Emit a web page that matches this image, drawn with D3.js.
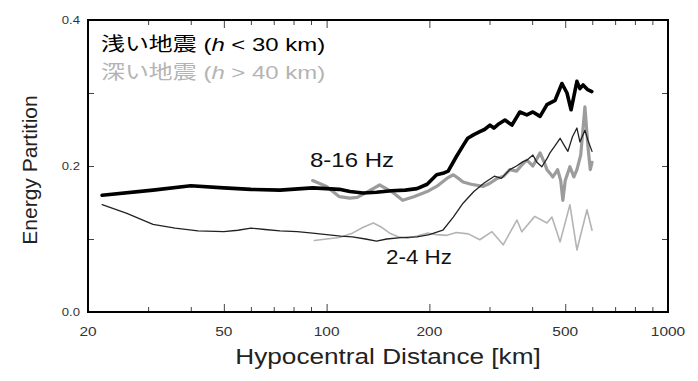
<!DOCTYPE html>
<html><head><meta charset="utf-8">
<script src="https://cdn.jsdelivr.net/npm/d3@7"></script>
<style>
html,body{margin:0;padding:0;background:#fff;}
svg{display:block;font-family:"Liberation Sans",Arial,sans-serif;}
</style></head>
<body>
<svg id="chart" width="698" height="381"></svg>
<script>
// ---- data ----
const xTickLabels = [20, 50, 100, 200, 500, 1000];
const xMinorTicks = [30, 40, 60, 70, 80, 90, 300, 400, 600, 700, 800, 900];
const yTickLabels = [0.0, 0.2, 0.4];
const yMinorTicks = [0.1, 0.3];

const shallowHighDist = [22, 31, 40, 50, 60, 73, 91, 109, 117, 128, 140, 155, 170, 184, 197, 210, 219, 227, 240, 251, 259, 270, 281, 290, 301, 309, 320, 333, 349, 368, 386, 402, 422, 442, 467, 489, 506, 520, 527, 541, 552, 564, 580, 598];
const shallowHighVal  = [0.160, 0.167, 0.173, 0.170, 0.168, 0.167, 0.170, 0.168, 0.165, 0.163, 0.164, 0.166, 0.167, 0.169, 0.175, 0.188, 0.190, 0.193, 0.213, 0.228, 0.238, 0.243, 0.247, 0.250, 0.256, 0.252, 0.258, 0.263, 0.256, 0.274, 0.270, 0.274, 0.268, 0.284, 0.290, 0.313, 0.300, 0.277, 0.290, 0.316, 0.306, 0.311, 0.305, 0.302];

const shallowLowDist = [22, 26, 31, 36, 42, 50, 55, 60, 66, 73, 82, 91, 100, 110, 119, 130, 140, 150, 165, 184, 200, 219, 235, 251, 270, 290, 310, 325, 344, 360, 376, 386, 402, 413, 427, 442, 451, 467, 483, 497, 509, 525, 541, 552, 571, 583, 599];
const shallowLowVal  = [0.147, 0.135, 0.120, 0.115, 0.111, 0.110, 0.112, 0.115, 0.113, 0.111, 0.110, 0.108, 0.106, 0.104, 0.103, 0.100, 0.097, 0.100, 0.102, 0.103, 0.106, 0.112, 0.130, 0.149, 0.165, 0.177, 0.186, 0.183, 0.195, 0.200, 0.206, 0.208, 0.215, 0.205, 0.199, 0.210, 0.218, 0.228, 0.238, 0.228, 0.220, 0.240, 0.252, 0.233, 0.249, 0.235, 0.220];

const deepHighDist = [91, 100, 109, 117, 123, 132, 143, 155, 167, 180, 197, 210, 225, 235, 245, 251, 265, 287, 300, 316, 330, 344, 360, 376, 386, 402, 422, 434, 442, 451, 460, 475, 485, 492, 500, 516, 530, 541, 555, 571, 583, 592, 599];
const deepHighVal  = [0.180, 0.172, 0.158, 0.156, 0.157, 0.165, 0.174, 0.165, 0.153, 0.158, 0.165, 0.172, 0.183, 0.188, 0.182, 0.178, 0.175, 0.172, 0.176, 0.183, 0.186, 0.195, 0.193, 0.203, 0.208, 0.200, 0.218, 0.205, 0.195, 0.190, 0.185, 0.195, 0.180, 0.153, 0.180, 0.199, 0.185, 0.195, 0.215, 0.281, 0.226, 0.195, 0.205];

const deepLowDist = [92, 100, 109, 119, 128, 137, 145, 153, 162, 172, 184, 197, 210, 225, 240, 260, 281, 305, 329, 361, 373, 407, 442, 457, 483, 516, 541, 579, 599];
const deepLowVal  = [0.098, 0.100, 0.102, 0.108, 0.116, 0.122, 0.116, 0.108, 0.103, 0.101, 0.104, 0.108, 0.106, 0.105, 0.109, 0.107, 0.099, 0.110, 0.092, 0.126, 0.110, 0.131, 0.122, 0.130, 0.096, 0.147, 0.085, 0.140, 0.112];

// ---- layout ----
const L = 88, R = 668, T = 20, B = 312;
const SX = 1.19; // horizontal stretch of glyphs in the reference
const svg = d3.select("#chart");
const x = d3.scaleLog().domain([20, 1000]).range([L, R]);
const y = d3.scaleLinear().domain([0, 0.4]).range([B, T]);

function stretchedText(g, px, py, str, opts) {
  const t = g.append("text")
    .attr("transform", `translate(${px},${py}) scale(${opts.sx || SX},1)`)
    .attr("font-size", opts.size)
    .attr("fill", opts.fill || "#000")
    .attr("text-anchor", opts.anchor || "start");
  return t;
}

// ---- series ----
const line = d3.line().x(d => x(d[0])).y(d => y(d[1]));
function draw(dist, val, color, w) {
  svg.append("path").datum(d3.zip(dist, val))
    .attr("d", line).attr("fill", "none")
    .attr("stroke", color).attr("stroke-width", w)
    .attr("stroke-linejoin", "round").attr("stroke-linecap", "round");
}
draw(deepLowDist, deepLowVal, "#b4b4b4", 1.6);
draw(deepHighDist, deepHighVal, "#9c9c9c", 3.2);
draw(shallowLowDist, shallowLowVal, "#222", 1.3);
draw(shallowHighDist, shallowHighVal, "#000", 3.6);

// ---- axes (ticks inward) ----
const fmtNone = () => "";
svg.append("g").attr("transform", `translate(0,${B})`)
  .call(d3.axisBottom(x).tickValues(xTickLabels).tickSize(-8).tickFormat(fmtNone));
svg.append("g").attr("transform", `translate(0,${B})`)
  .call(d3.axisBottom(x).tickValues(xMinorTicks).tickSize(-5).tickFormat(fmtNone));
svg.append("g").attr("transform", `translate(0,${T})`)
  .call(d3.axisTop(x).tickValues(xTickLabels).tickSize(-8).tickFormat(fmtNone));
svg.append("g").attr("transform", `translate(0,${T})`)
  .call(d3.axisTop(x).tickValues(xMinorTicks).tickSize(-5).tickFormat(fmtNone));
svg.append("g").attr("transform", `translate(${L},0)`)
  .call(d3.axisLeft(y).tickValues(yTickLabels.concat(yMinorTicks)).tickSize(-6).tickFormat(fmtNone));
svg.append("g").attr("transform", `translate(${R},0)`)
  .call(d3.axisRight(y).tickValues(yTickLabels.concat(yMinorTicks)).tickSize(-6).tickFormat(fmtNone));
svg.selectAll(".domain").remove();
svg.selectAll(".tick line").attr("stroke", "#444").attr("stroke-width", 1);
svg.append("rect").attr("x", L).attr("y", T).attr("width", R - L).attr("height", B - T)
  .attr("fill", "none").attr("stroke", "#000").attr("stroke-width", 2);

// tick labels
const lab = svg.append("g");
xTickLabels.forEach(v => {
  stretchedText(lab, x(v), B + 24, String(v), {size: 13, anchor: "middle", fill: "#333"}).text(v);
});
yTickLabels.forEach(v => {
  stretchedText(lab, L - 8, y(v) + 4, v.toFixed(1), {size: 11, anchor: "end", fill: "#333"}).text(v.toFixed(1));
});

// axis titles
stretchedText(svg, (L + R) / 2 + 10, 364, "", {size: 22, anchor: "middle", fill: "#222"})
  .text("Hypocentral Distance [km]");
svg.append("text")
  .attr("transform", `translate(37,${(T + B) / 2 + 4}) rotate(-90)`)
  .attr("font-size", 21).attr("fill", "#222").attr("text-anchor", "middle")
  .text("Energy Partition");

// legend
const leg1 = stretchedText(svg, 101, 51, "", {size: 19, sx: 1.26, fill: "#000"});
leg1.append("tspan").attr("font-family", "'Noto Sans CJK JP',sans-serif").text("浅い地震");
leg1.append("tspan").text(" (");
leg1.append("tspan").attr("font-style", "italic").text("h");
leg1.append("tspan").text(" < 30 km)");
const leg2 = stretchedText(svg, 101, 79, "", {size: 19, sx: 1.26, fill: "#b4b4b4"});
leg2.append("tspan").attr("font-family", "'Noto Sans CJK JP',sans-serif").text("深い地震");
leg2.append("tspan").text(" (");
leg2.append("tspan").attr("font-style", "italic").text("h");
leg2.append("tspan").text(" > 40 km)");

// curve labels
stretchedText(svg, 310, 167, "", {size: 20, sx: 1.2, fill: "#111"}).text("8-16 Hz");
stretchedText(svg, 386, 264, "", {size: 20, sx: 1.12, fill: "#111"}).text("2-4 Hz");
</script>
</body></html>
